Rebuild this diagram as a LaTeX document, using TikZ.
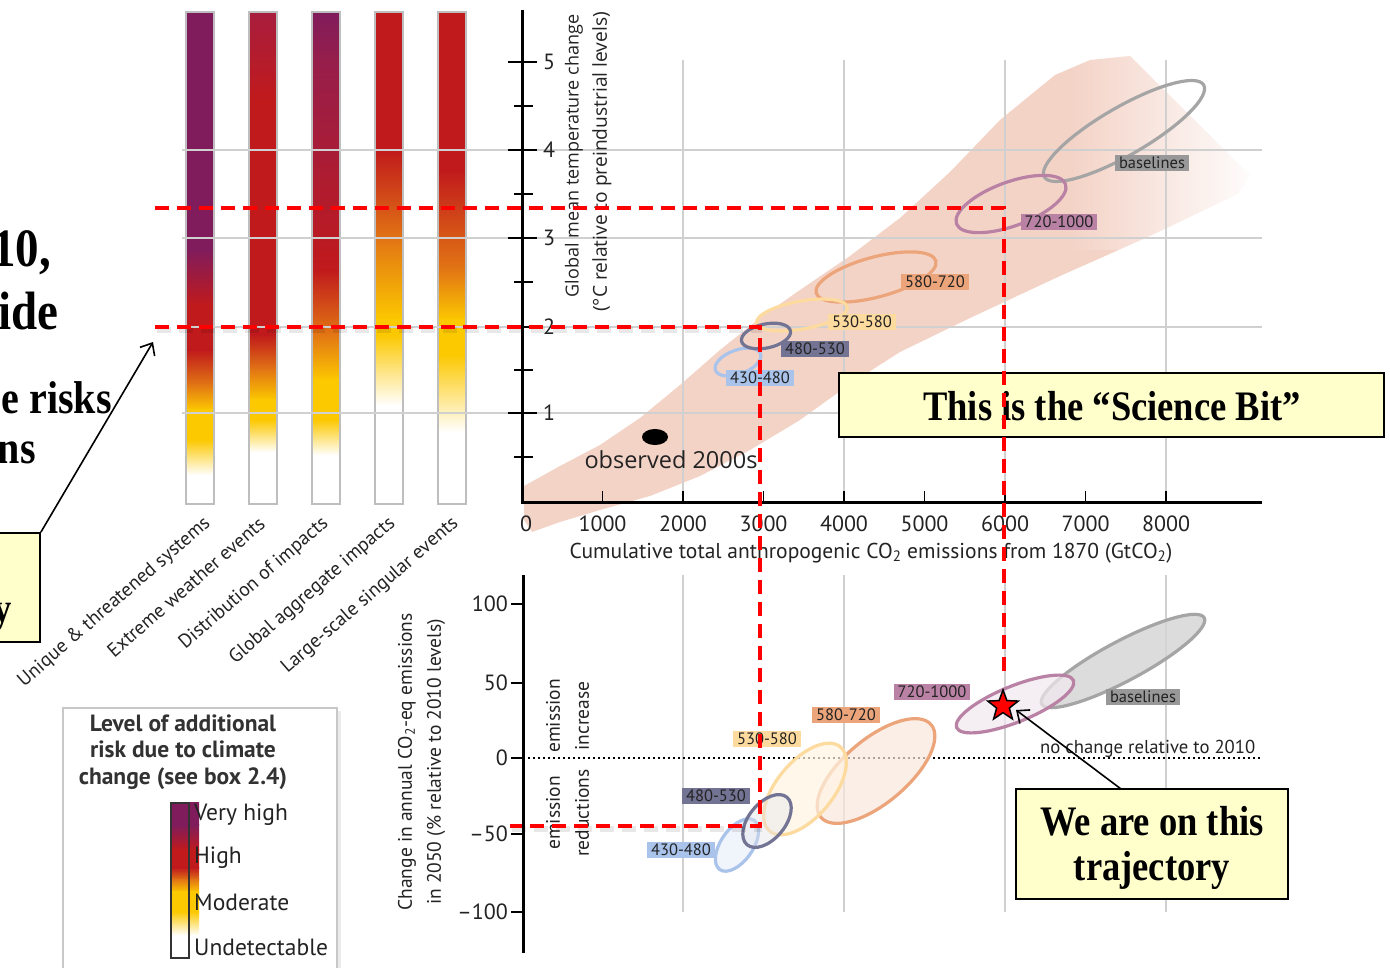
\documentclass[tikz,border=0pt]{standalone}
\usepackage{fontspec}
\usepackage{graphicx}
\setmainfont{Liberation Serif}
\newfontfamily\ptsans{PT Sans}
\newfontfamily\opsans{Open Sans}
\usetikzlibrary{arrows.meta,shapes.geometric,fadings}
\definecolor{cVH}{RGB}{128,28,92}
\definecolor{cVHR}{RGB}{168,30,62}
\definecolor{cVHB}{RGB}{150,30,75}
\definecolor{cH}{RGB}{192,26,28}
\definecolor{cO}{RGB}{226,118,20}
\definecolor{cM}{RGB}{252,200,0}
\definecolor{band}{RGB}{244,211,199}
\definecolor{grid}{RGB}{208,208,208}
\definecolor{boxy}{RGB}{255,255,204}
\definecolor{eBase}{RGB}{165,165,165}
\definecolor{lBase}{RGB}{152,152,152}
\definecolor{e720}{RGB}{185,130,165}
\definecolor{e580}{RGB}{236,165,122}
\definecolor{e530}{RGB}{253,218,158}
\definecolor{e480}{RGB}{115,115,148}
\definecolor{e430}{RGB}{170,195,235}
\definecolor{txt}{RGB}{35,35,35}
\definecolor{legtxt}{RGB}{50,50,50}
\newcommand\barseg[5]{\shade[top color=#4,bottom color=#5] (#1,#2-0.4) rectangle (#1+28,#3+0.4);}
\begin{document}
\begin{tikzpicture}[x=1pt,y=-1pt,
  lab/.style={fill=#1, inner xsep=4pt, inner ysep=2.5pt, font=\ptsans\fontsize{16.5}{16.5}\selectfont, text=txt},
  ell/.style={draw=#1, line width=3.2pt},
  reddash/.style={draw=red, line width=4pt, dash pattern=on 14pt off 8pt},
  shadowdash/.style={draw=black, opacity=0.09, line width=6pt, dash pattern=on 14pt off 8pt},
  grd/.style={draw=grid, line width=1.3pt},
  ax/.style={line width=3pt, draw=black},
  tck/.style={line width=1.6pt, draw=black},
  callout/.style={draw=black, line width=1.8pt, fill=boxy},
  tnr/.style={font=\bfseries\fontsize{42}{45}\selectfont},
  ticklab/.style={font=\ptsans\fontsize{22}{22}\selectfont, text=txt},
  barlab/.style={font=\ptsans\fontsize{19.5}{19.5}\selectfont, text=txt, rotate=41, anchor=east, inner sep=0pt},
  leglab/.style={font=\ptsans\fontsize{23.5}{23.5}\selectfont, text=txt, anchor=west, inner sep=0pt},
  vlab/.style={font=\ptsans\fontsize{19.5}{19.5}\selectfont, text=txt, rotate=90, inner sep=0pt},
  barbox/.style={draw={rgb,255:red,190;green,190;blue,190}, line width=1.2pt},
  arr/.style={-{Straight Barb[length=10pt,width=17pt]}, line width=1.6pt}
]
\useasboundingbox (0,0) rectangle (1390,968);
\clip (0,0) rectangle (1390,968);
\fill[white] (0,0) rectangle (1390,968);

% ---------- band ----------
\fill[band] (524,486) -- (560,466) -- (600,445) -- (640,418) -- (680,385) -- (720,350) -- (760,318) -- (800,290) -- (850,256) -- (900,218) -- (950,172) -- (1000,120) -- (1055,75) -- (1090,60) -- (1130,56) -- (1250,175) -- (1238,194) -- (1150,236) -- (1060,276) -- (970,318) -- (900,352) -- (850,384) -- (800,420) -- (750,450) -- (700,476) -- (650,496) -- (600,510) -- (560,522) -- (532,532) -- (524,520) -- cycle;
\fill[white, path fading=west] (1070,20) rectangle (1262,250);

% ---------- bars ----------
\barseg{186}{12}{250}{cVH}{cVH}
\barseg{186}{250}{305}{cVH}{cH}
\barseg{186}{305}{350}{cH}{cH}
\barseg{186}{350}{385}{cH}{cO}
\barseg{186}{385}{410}{cO}{cM}
\barseg{186}{410}{440}{cM}{cM}
\barseg{186}{440}{475}{cM}{white}
\barseg{249}{12}{100}{cVHR}{cH}
\barseg{249}{100}{335}{cH}{cH}
\barseg{249}{335}{370}{cH}{cO}
\barseg{249}{370}{400}{cO}{cM}
\barseg{249}{400}{420}{cM}{cM}
\barseg{249}{420}{452}{cM}{white}
\barseg{312}{12}{60}{cVH}{cVHB}
\barseg{312}{60}{270}{cVHB}{cH}
\barseg{312}{270}{335}{cH}{cO}
\barseg{312}{335}{380}{cO}{cM}
\barseg{312}{380}{420}{cM}{cM}
\barseg{312}{420}{455}{cM}{white}
\barseg{375}{12}{150}{cH}{cH}
\barseg{375}{150}{240}{cH}{cO}
\barseg{375}{240}{320}{cO}{cM}
\barseg{375}{320}{335}{cM}{cM}
\barseg{375}{335}{405}{cM}{white}
\barseg{438}{12}{170}{cH}{cH}
\barseg{438}{170}{270}{cH}{cO}
\barseg{438}{270}{320}{cO}{cM}
\barseg{438}{320}{355}{cM}{cM}
\barseg{438}{355}{432}{cM}{white}
\foreach \bx in {186,249,312,375,438} {\draw[barbox] (\bx,12) rectangle (\bx+28,504);}

% ---------- grid (top) ----------
\foreach \gy in {150,238,327,413} {\draw[grd] (182,\gy) -- (1262,\gy);}
\foreach \gx in {683,844,1005,1166} {\draw[grd] (\gx,60) -- (\gx,502);}
% ---------- grid (bottom) ----------
\foreach \gx in {683,844,1005,1166} {\draw[grd] (\gx,575) -- (\gx,912);}

% ---------- top ellipses ----------
\draw[ell=eBase, rotate around={30:(1124,131)}] (1124,131) ellipse [x radius=92pt, y radius=24pt];
\draw[ell=e720, rotate around={20:(1011,204)}] (1011,204) ellipse [x radius=58pt, y radius=22pt];
\draw[ell=e580, rotate around={15:(876,277)}] (876,277) ellipse [x radius=62pt, y radius=20pt];
\draw[ell=e530, rotate around={10:(802,315)}] (802,315) ellipse [x radius=46pt, y radius=14pt];
\draw[ell=e430, rotate around={20:(738,362)}] (738,362) ellipse [x radius=24pt, y radius=12pt];
\draw[ell=e480, rotate around={12:(766,336)}] (766,336) ellipse [x radius=25pt, y radius=12pt];
\node[lab=lBase] (tlb) at (1152,163) {baselines};
\node[lab=e720] (tl720) at (1059,222) {720-1000};
\node[lab=e580] (tl580) at (935,282) {580-720};
\node[lab=e530] (tl530) at (862,322) {530-580};
\node[lab=e480] (tl480) at (815,349) {480-530};
\node[lab=e430] (tl430) at (760,378) {430-480};

% observed
\fill[black] (655,437) ellipse [x radius=13pt, y radius=8pt];
\node[font=\opsans\fontsize{23.5}{23.5}\selectfont, text=txt, inner sep=0pt] (obs) at (671,460) {observed 2000s};

% ---------- top axes ----------
\draw[ax] (522,10) -- (522,502) -- (1262,502);
\foreach \ty/\tl in {62/5,150/4,238/3,327/2,413/1} {
  \draw[tck] (508,\ty) -- (537,\ty);
  \node[ticklab, anchor=west, inner sep=0pt] at (543,\ty) {\tl};
}
\foreach \ty in {106,194,282,370,457} {\draw[tck] (514,\ty) -- (533,\ty);}
\foreach \k in {1,...,8} {\draw[tck] (522+80.5*\k,491) -- (522+80.5*\k,502);}
\node[ticklab] at (526,524) {0};
\foreach \k in {1,...,8} {\node[ticklab] at (522+80.5*\k,524) {\k000};}
\node[font=\ptsans\fontsize{21.5}{21.5}\selectfont, text=txt] (xt) at (871,553) {Cumulative total anthropogenic CO\textsubscript{2} emissions from 1870 (GtCO\textsubscript{2})};
\node[font=\opsans\fontsize{18}{18}\selectfont, text=txt, rotate=90, inner sep=0pt] (yt1) at (574,156) {Global mean temperature change};
\node[font=\opsans\fontsize{19.2}{19.2}\selectfont, text=txt, rotate=90, inner sep=0pt] (yt2) at (602,162) {(°C relative to preindustrial levels)};

% ---------- bar labels ----------
\node[barlab] (b1) at (208,521) {Unique \& threatened systems};
\node[barlab] (b2) at (262,521) {Extreme weather events};
\node[barlab] (b3) at (326,521) {Distribution of impacts};
\node[barlab] (b4) at (393,521) {Global aggregate impacts};
\node[barlab] (b5) at (456,521) {Large-scale singular events};

% ---------- legend ----------
\fill[black!8] (66,711) rectangle (341,975);
\draw[fill=white, draw={rgb,255:red,200;green,200;blue,200}, line width=1.4pt] (63,708) rectangle (337,975);
\node[font=\ptsans\bfseries\fontsize{23.5}{26.5}\selectfont, text=legtxt, align=center] (legt) at (183,752) {Level of additional\\risk due to climate\\change (see box 2.4)};
\barseg{171}{803}{825}{cVH}{cVH}
\barseg{171}{825}{850}{cVH}{cH}
\barseg{171}{850}{868}{cH}{cH}
\barseg{171}{868}{880}{cH}{cO}
\barseg{171}{880}{892}{cO}{cM}
\barseg{171}{892}{912}{cM}{cM}
\barseg{171}{912}{935}{cM}{white}
\draw[line width=1.4pt, black!80] (171,803) rectangle (189,958);
\node[leglab] (lv) at (194,815) {Very high};
\node[leglab] (lh) at (194,858) {High};
\node[leglab] (lm) at (194,902) {Moderate};
\node[leglab] (lu) at (194,947) {Undetectable};

% ---------- bottom chart ----------
\draw[line width=2pt, dash pattern=on 2pt off 3pt] (523,758) -- (1262,758);
\node[font=\ptsans\fontsize{18.7}{18.7}\selectfont, text=txt, anchor=base west, inner sep=0pt] (nochg) at (1040,753) {no change relative to 2010};
\draw[ax] (523,575) -- (523,953);
\foreach \ty/\tl in {604/100,683/50,758/0,834/\textendash50,912/\textendash100} {
  \draw[tck] (511,\ty) -- (523,\ty);
  \node[ticklab, anchor=east, inner sep=0pt] at (508,\ty) {\tl};
}
\node[vlab] (by1) at (407,762) {Change in annual CO\textsubscript{2}-eq emissions};
\node[vlab] (by2) at (436,762) {in 2050 (\% relative to 2010 levels)};
\node[vlab] (ei) at (553,716) {emission};
\node[vlab] (in) at (582,716) {increase};
\node[vlab] (er) at (553,813) {emission};
\node[vlab] (rd) at (582,813) {reductions};

% bottom ellipses
\filldraw[ell=e580, fill=e580!25, fill opacity=0.7, rotate around={40:(876,771)}] (876,771) ellipse [x radius=72pt, y radius=32pt];
\filldraw[ell=e530, fill=e530!30, fill opacity=0.7, rotate around={50:(805,789)}] (805,789) ellipse [x radius=55pt, y radius=28pt];
\filldraw[ell=e430, fill=e430!25, fill opacity=0.7, rotate around={55:(737,845)}] (737,845) ellipse [x radius=30pt, y radius=16pt];
\filldraw[ell=e480, fill=e480!20, fill opacity=0.4, rotate around={50:(767,821)}] (767,821) ellipse [x radius=31pt, y radius=18pt];
\filldraw[ell=eBase, fill=black!17, fill opacity=0.8, rotate around={28:(1123,661)}] (1123,661) ellipse [x radius=92pt, y radius=20pt];
\filldraw[ell=e720, fill=e720!18, fill opacity=0.7, rotate around={22:(1015,704)}] (1015,704) ellipse [x radius=63pt, y radius=18pt];
\node[lab=e720] (bl720) at (932,692) {720-1000};
\node[lab=e580] (bl580) at (846,715) {580-720};
\node[lab=e530] (bl530) at (767,739) {530-580};
\node[lab=e480] (bl480) at (716,796) {480-530};
\node[lab=e430] (bl430) at (681,850) {430-480};
\node[lab=lBase] (blb) at (1143,697) {baselines};

% ---------- callouts ----------
\node[callout, minimum width=545pt, minimum height=64pt, inner sep=0pt] (sbox) at (1111.5,405) {};
\node[tnr, anchor=base] (stxt) at (1112,420) {\scalebox{0.87}[1]{This is the “Science Bit”}};
\node[callout, minimum width=272pt, minimum height=110pt, inner sep=0pt] (tbox) at (1152,844) {};
\node[tnr, anchor=base] (ttx1) at (1152,835) {\scalebox{0.87}[1]{We are on this}};
\node[tnr, anchor=base] (ttx2) at (1152,880) {\scalebox{0.87}[1]{trajectory}};
\node[callout, minimum width=80pt, minimum height=109pt, inner sep=0pt] (lbox) at (0,587.5) {};
\node[tnr, anchor=base east, inner sep=0pt] (ly) at (12,622) {\scalebox{0.87}[1]{y}};

% left cut text
\node[font=\bfseries\fontsize{54}{54}\selectfont, anchor=base east, inner sep=0pt] (c1) at (51,267) {\scalebox{0.87}[1]{10,}};
\node[font=\bfseries\fontsize{54}{54}\selectfont, anchor=base east, inner sep=0pt] (c2) at (59,330) {\scalebox{0.87}[1]{ide}};
\node[font=\bfseries\fontsize{46}{46}\selectfont, anchor=base east, inner sep=0pt] (c3) at (112,413) {\scalebox{0.87}[1]{e risks}};
\node[font=\bfseries\fontsize{46}{46}\selectfont, anchor=base east, inner sep=0pt] (c4) at (36,463) {\scalebox{0.87}[1]{ns}};

% ---------- red dashed lines ----------
\coordinate (r1a) at (155,208);
\coordinate (r1b) at (1004,208);
\coordinate (r1c) at (1004,673);
\coordinate (r2a) at (155,327);
\coordinate (r2b) at (760,327);
\coordinate (r2c) at (760,826);
\coordinate (r2d) at (510,826);
\draw[shadowdash] (157,330) -- (762,330);
\draw[shadowdash] (512,829) -- (762,829);
\draw[reddash] (r1a) -- (r1b) -- (r1c);
\draw[reddash] (r2a) -- (r2b) -- (r2c) -- (r2d);

% star and arrows
\node[star, star points=5, star point ratio=2.4, minimum size=32pt, inner sep=0pt, fill=red, draw=black, line width=1.5pt] (star) at (1003,706) {};
\coordinate (tstart) at (1121,789);
\coordinate (tend) at (1016,710);
\draw[arr] (tstart) -- (tend);
\coordinate (lend) at (153,342);
\draw[arr] (lbox.north east) -- (lend);
\end{tikzpicture}
\end{document}
